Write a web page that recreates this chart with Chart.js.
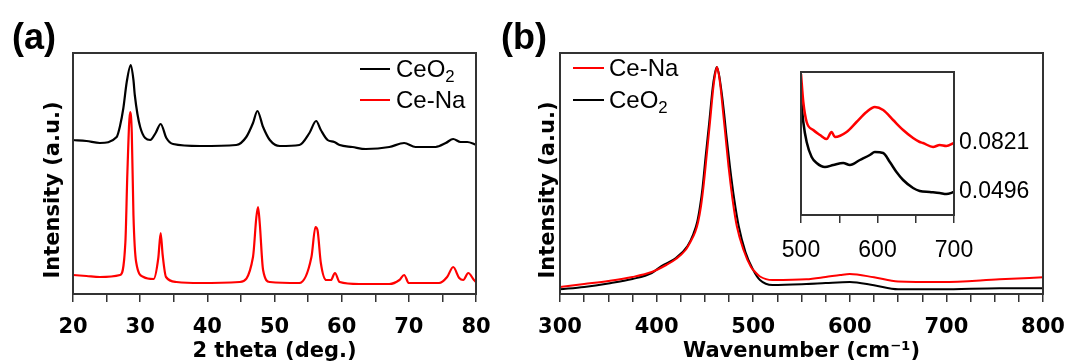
<!DOCTYPE html>
<html>
<head>
<meta charset="utf-8">
<script src="https://cdn.jsdelivr.net/npm/chart.js@4.4.0/dist/chart.umd.min.js"></script>
<style>
  body { margin: 0; background: #fff; width: 1067px; height: 364px; overflow: hidden; position: relative; }
  canvas { position: absolute; top: 0; }
  #xrd { left: 0; }
  #raman { left: 490px; }
  #inset { left: 770px; top: 60px; }
  .tag { position: absolute; font: bold 36px "Liberation Sans", sans-serif; transform: translate(-50%, -50%); }
  .ytitle { position: absolute; font: bold 21px "DejaVu Sans", sans-serif; white-space: nowrap;
            transform: translate(-50%, -50%) rotate(-90deg); }
  .legend { position: absolute; font: 24px "Liberation Sans", sans-serif; color: #000; }
  .legend .row { display: flex; align-items: center; }
  .legend .swatch { height: 2px; }
  .legend sub { font-size: 0.7em; vertical-align: -0.3em; line-height: 0; }
</style>
</head>
<body>
<canvas id="xrd" width="500" height="364"></canvas>
<canvas id="raman" width="577" height="364"></canvas>
<canvas id="inset" width="297" height="200"></canvas>
<div class="tag" style="left:34px; top:37px">(a)</div>
<div class="tag" style="left:524px; top:37px">(b)</div>
<div class="ytitle" style="left:52px; top:190px">Intensity (a.u.)</div>
<div class="ytitle" style="left:547px; top:190px">Intensity (a.u.)</div>
<div class="legend" id="legend-a" style="left:360px; top:53px"></div>
<div class="legend" id="legend-b" style="left:573px; top:52px"></div>
<script>
// (a) XRD patterns, intensity in arbitrary units
const xrdCeO2Theta = [20, 22, 24, 26.5, 27.0, 27.5, 28.0, 28.6, 29.0, 29.2, 30.0, 31.5, 32.3, 33.05, 33.9, 34.9, 38.9,
  44.3, 45.8, 46.8, 47.45, 48.3, 49.3, 50.8, 53.7, 55.2, 56.2, 56.9, 57.9, 58.9, 59.7, 61.6, 63.6, 67.1,
  69.3, 71.0, 74.0, 75.5, 76.6, 77.7, 78.7, 79.7, 80];
const xrdCeO2Int = [154, 153, 151, 157, 168, 186, 212, 229, 214, 199, 167, 154, 161, 170, 156, 150, 148,
  149, 157, 171, 183, 167, 154, 148, 149, 161, 173, 164, 154, 152, 149, 147, 145, 147,
  151, 147, 147, 151, 155, 152, 152, 150, 149];

const xrdCeNaTheta = [20, 22, 24, 27.0, 27.8, 28.1, 28.5, 28.75, 29.0, 29.4, 30.5, 32.0, 32.7, 33.05, 33.35, 33.85,
  35.4, 38.9, 44.8, 46.8, 47.3, 47.55, 47.8, 48.3, 49.3, 53.7, 55.5, 56.1, 56.4, 56.9, 57.7, 58.4, 59.0,
  59.7, 62.6, 67.1, 68.6, 69.3, 70.0, 74.5, 75.7, 76.6, 77.5, 78.1, 78.85, 79.7, 80];
const xrdCeNaInt = [19, 18, 17, 19, 52, 122, 182, 162, 79, 32, 17, 15, 36, 61, 39, 17,
  12, 11, 12, 37, 77, 87, 71, 24, 12, 11, 37, 67, 64, 31, 14, 14, 21,
  12, 10, 10, 14, 19, 11, 11, 17, 27, 16, 14, 21, 14, 12];

// (b) Raman spectra
const ramanCeNaWave = [300, 325, 350, 375, 395, 410, 420, 430, 435, 440, 443, 446, 448.4, 452, 455.3, 458.7, 460.5,
  462.5, 464.5, 466.5, 469, 471, 474.5, 478.7, 483, 490, 497.7, 502, 507, 520, 555, 575, 590, 600, 625,
  650, 695, 755, 800];
const ramanCeNaInt = [7, 10, 13, 17, 22, 29, 35, 44, 52, 62, 72, 88, 106, 140, 172, 206, 219,
  227, 219, 204, 180, 161, 127, 94, 68, 44, 27, 22, 17.5, 14, 14.7, 17, 19, 20, 16.7,
  12.5, 12, 14.7, 16.7];

const ramanCeO2Wave = [300, 325, 350, 375, 395, 405, 420, 432, 438, 442, 445, 447.5, 451, 454.5, 458, 460,
  462.3, 464.5, 467, 470, 472, 476, 480.5, 485, 492, 500, 507, 520, 555, 575, 600, 625, 650, 695, 755, 800];
const ramanCeO2Int = [4.7, 7, 10.5, 15, 21, 28, 36, 48, 60, 72, 88, 106, 140, 172, 206, 219,
  227, 220, 204, 180, 161, 127, 94, 68, 42, 24, 14, 9, 10, 11, 12, 8.7, 4.7, 4.7, 5.7, 5.7];

// inset: 500-700 cm-1 region
const insetCeNaWave = [500, 503, 507.4, 516, 524.8, 533.5, 540, 544.3, 559.6, 572.6, 585.7, 596.5, 607.4,
  620.4, 633.5, 646.5, 655.2, 659.5, 672.6, 681.3, 690, 700];
const insetCeNaInt = [141, 113, 93, 85, 80, 76, 83, 78, 83, 93, 103, 108, 105,
  95, 85, 77, 73, 72, 68, 70, 69, 72];
const insetCeO2Wave = [500, 503, 507.4, 513.9, 520.4, 531.3, 542.2, 555.2, 563.9, 577, 590, 596.5, 607.4,
  616.1, 624.8, 633.5, 646.5, 655.2, 668.3, 681.3, 690, 700];
const insetCeO2Int = [117, 93, 73, 58, 52, 48, 50, 52, 50, 55, 60, 63, 62,
  53, 43, 35, 27, 24, 23, 22, 21, 23];
const insetEndLabels = ['0.0821', '0.0496'];

const pts = (xs, ys) => xs.map((x, i) => ({x: x, y: ys[i]}));

const frame = {
  id: 'frame',
  afterDatasetsDraw(chart) {
    const {ctx, chartArea: a} = chart;
    ctx.save();
    ctx.strokeStyle = '#333';
    ctx.lineWidth = 2;
    ctx.strokeRect(a.left, a.top, a.right - a.left, a.bottom - a.top);
    ctx.restore();
  }
};

let line = function (label, data, color, width) {
  return {
    label: label,
    data: data,
    borderColor: color,
    borderWidth: width,
    pointRadius: 0,
    fill: false,
    cubicInterpolationMode: 'monotone'
  };
};

// fixed axis sizes so the plot frames land where the figure has them
let fixX = h => s => { s.height = h; s.paddingLeft = 0; s.paddingRight = 0; };

let mainOptions = function (xMin, xMax, step, labelEvery, title, leftW, rightPad) {
  return {
    responsive: false,
    animation: false,
    events: [],
    layout: {padding: {left: 0, right: rightPad, top: 53, bottom: 0}},
    plugins: {legend: {display: false}, tooltip: {enabled: false}},
    scales: {
      x: {
        type: 'linear', min: xMin, max: xMax,
        ticks: {
          stepSize: step, autoSkip: false, maxRotation: 0, padding: 13, color: '#000',
          font: {family: 'DejaVu Sans', weight: 'bold', size: 21},
          callback: v => (v % labelEvery === 0 ? v : '')
        },
        grid: {drawOnChartArea: false, tickLength: 8, color: '#333', lineWidth: 1.5},
        border: {display: false},
        title: {display: true, text: title, color: '#000', padding: 0,
          font: {family: 'DejaVu Sans', weight: 'bold', size: 21}},
        afterFit: fixX(70)
      },
      y: {
        min: 0, max: 241,
        ticks: {display: false},
        grid: {display: false},
        border: {display: false},
        afterFit: s => { s.width = leftW; }
      }
    }
  };
};

const xrdChart = new Chart(document.getElementById('xrd'), {
  type: 'line',
  data: {
    datasets: [
      line('CeO₂', pts(xrdCeO2Theta, xrdCeO2Int), '#000000', 2.2),
      line('Ce-Na', pts(xrdCeNaTheta, xrdCeNaInt), '#ff0000', 2.2)
    ]
  },
  options: mainOptions(20, 80, 5, 10, '2 theta (deg.)', 73, 24),
  plugins: [frame]
});

const ramanChart = new Chart(document.getElementById('raman'), {
  type: 'line',
  data: {
    datasets: [
      line('Ce-Na', pts(ramanCeNaWave, ramanCeNaInt), '#ff0000', 2),
      line('CeO₂', pts(ramanCeO2Wave, ramanCeO2Int), '#000000', 2)
    ]
  },
  options: mainOptions(300, 800, 25, 100, 'Wavenumber (cm⁻¹)', 70, 24),
  plugins: [frame]
});

const insetChart = new Chart(document.getElementById('inset'), {
  type: 'line',
  data: {
    datasets: [
      line('Ce-Na', pts(insetCeNaWave, insetCeNaInt), '#ff0000', 2.5),
      line('CeO₂', pts(insetCeO2Wave, insetCeO2Int), '#000000', 2.5)
    ]
  },
  options: {
    responsive: false,
    animation: false,
    events: [],
    layout: {padding: {left: 31, right: 0, top: 12, bottom: 0}},
    plugins: {legend: {display: false}, tooltip: {enabled: false}},
    scales: {
      x: {
        type: 'linear', min: 500, max: 700,
        ticks: {
          stepSize: 50, autoSkip: false, maxRotation: 0, padding: 14, color: '#000',
          font: {family: 'Liberation Sans', size: 23},
          callback: v => (v % 100 === 0 ? v : '')
        },
        grid: {drawOnChartArea: false, tickLength: 8, color: '#333', lineWidth: 1.5},
        border: {display: false},
        afterFit: fixX(45)
      },
      y: {
        position: 'right', min: 0, max: 143,
        afterBuildTicks: s => {
          s.ticks = [insetCeNaInt, insetCeO2Int].map(d => ({value: d[d.length - 1]}));
        },
        ticks: {
          color: '#000', padding: -3,
          font: {family: 'Liberation Sans', size: 23},
          callback: (v, i) => insetEndLabels[i]
        },
        grid: {display: false},
        border: {display: false},
        afterFit: s => { s.width = 113; }
      }
    }
  },
  plugins: [frame]
});

// legends built from the chart datasets
let makeLegend = function (chart, id, swatchW, gap, rowH) {
  let box = document.getElementById(id);
  chart.data.datasets.forEach(ds => {
    let row = document.createElement('div');
    row.className = 'row';
    row.style.height = rowH + 'px';
    let sw = document.createElement('span');
    sw.className = 'swatch';
    sw.style.width = swatchW + 'px';
    sw.style.marginRight = gap + 'px';
    sw.style.background = ds.borderColor;
    let txt = document.createElement('span');
    txt.innerHTML = ds.label.replace('₂', '<sub>2</sub>');
    row.appendChild(sw);
    row.appendChild(txt);
    box.appendChild(row);
  });
};

makeLegend(xrdChart, 'legend-a', 30, 6, 31);
makeLegend(ramanChart, 'legend-b', 31, 5, 32);
</script>
</body>
</html>
